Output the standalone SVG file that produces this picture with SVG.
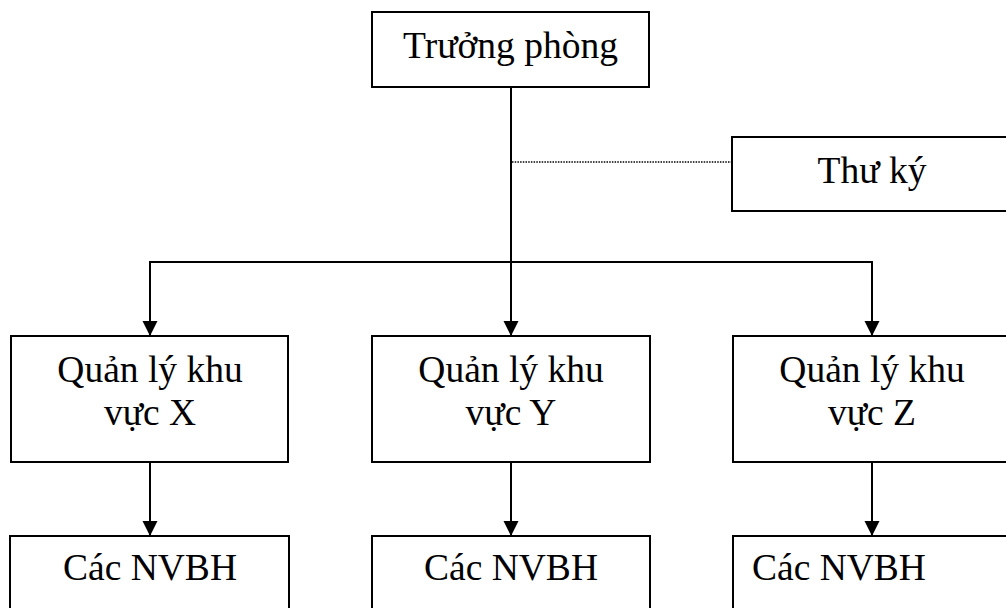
<svg xmlns="http://www.w3.org/2000/svg" width="1006" height="608" viewBox="0 0 1006 608">
<style>
.box{fill:#fff;stroke:#000;stroke-width:2}
.t{font-family:"Liberation Serif","Times New Roman",serif;font-size:37.5px;fill:#000}
.c{text-anchor:middle}
.ln{stroke:#000;stroke-width:2;fill:none}
.dot{stroke:#000;stroke-width:1.4;stroke-dasharray:1.5 1.2;fill:none}
</style>
<defs>
<marker id="ah" markerUnits="userSpaceOnUse" markerWidth="16" markerHeight="16" refX="15" refY="7.5" orient="auto">
<path d="M0,0 L15,7.5 L0,15 Z" fill="#000"/>
</marker>
</defs>
<g id="connectors">
<line class="ln" x1="511" y1="87" x2="511" y2="336" marker-end="url(#ah)"/>
<line class="dot" x1="512" y1="162" x2="732" y2="162"/>
<polyline class="ln" points="150,336 150,262 872,262 872,336" marker-end="url(#ah)"/>
<line class="ln" x1="150" y1="262" x2="150" y2="336" marker-end="url(#ah)"/>
<line class="ln" x1="150" y1="462" x2="150" y2="536" marker-end="url(#ah)"/>
<line class="ln" x1="511" y1="462" x2="511" y2="536" marker-end="url(#ah)"/>
<line class="ln" x1="872" y1="462" x2="872" y2="536" marker-end="url(#ah)"/>
</g>
<g id="truong-phong">
<rect class="box" x="372" y="12" width="277" height="75"/>
<text class="t c" x="510.5" y="58">Trưởng phòng</text>
</g>
<g id="thu-ky">
<rect class="box" x="732" y="137" width="280" height="74"/>
<text class="t c" x="872" y="183">Thư ký</text>
</g>
<g id="ql-x">
<rect class="box" x="11" y="336" width="277" height="126"/>
<text class="t c" x="150" y="382">Quản lý khu</text>
<text class="t c" x="150" y="425">vực X</text>
</g>
<g id="ql-y">
<rect class="box" x="372" y="336" width="278" height="126"/>
<text class="t c" x="511" y="382">Quản lý khu</text>
<text class="t c" x="511" y="425">vực Y</text>
</g>
<g id="ql-z">
<rect class="box" x="733" y="336" width="278" height="126"/>
<text class="t c" x="872" y="382">Quản lý khu</text>
<text class="t c" x="872" y="425">vực Z</text>
</g>
<g id="nv-x">
<rect class="box" x="10" y="536" width="279" height="80"/>
<text class="t c" x="150" y="580">Các NVBH</text>
</g>
<g id="nv-y">
<rect class="box" x="372" y="536" width="278" height="80"/>
<text class="t c" x="511" y="580">Các NVBH</text>
</g>
<g id="nv-z">
<rect class="box" x="733" y="536" width="278" height="80"/>
<text class="t" x="752" y="580">Các NVBH</text>
</g>
</svg>
